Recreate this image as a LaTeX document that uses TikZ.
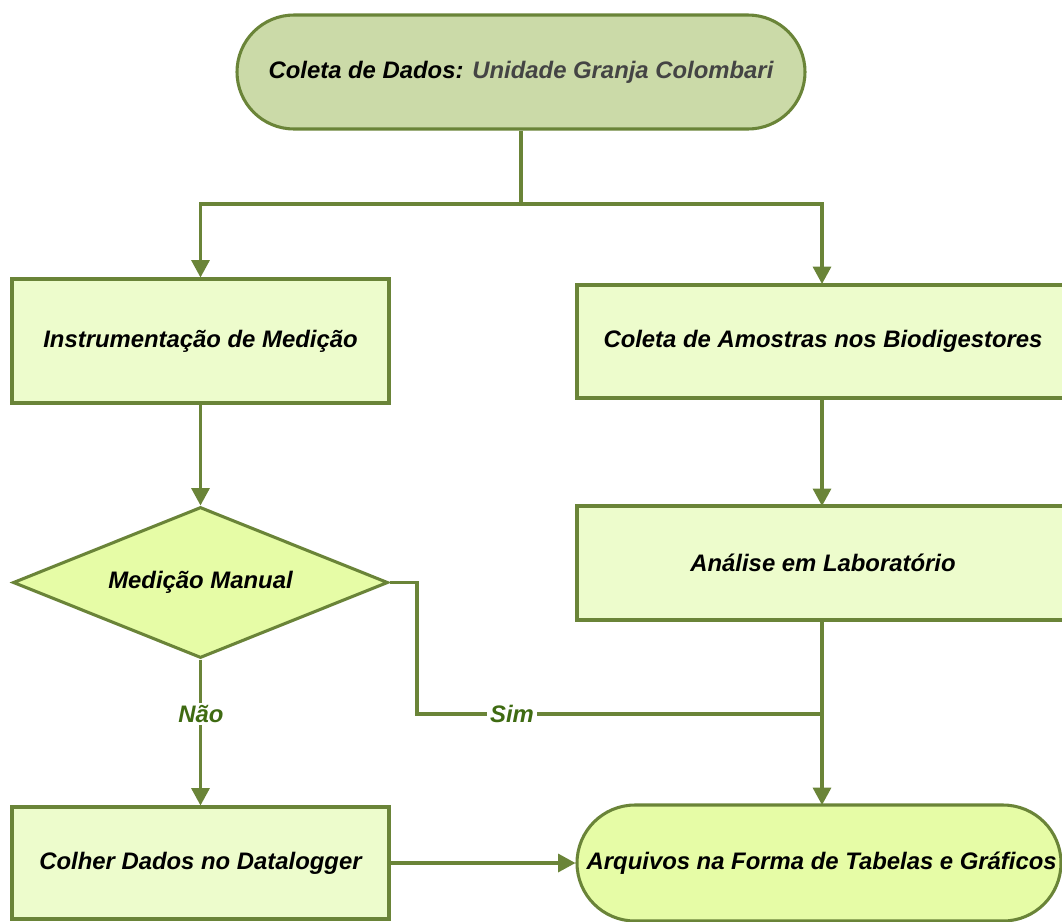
\documentclass[tikz,border=0pt]{standalone}
\usepackage{fontspec}
\setmainfont{Liberation Sans}
\usetikzlibrary{shapes.geometric,shapes.misc,arrows.meta}
\definecolor{edge}{HTML}{6A8438}
\definecolor{topfill}{HTML}{CBDAA8}
\definecolor{boxfill}{HTML}{EDFCCC}
\definecolor{brightfill}{HTML}{E6FCA6}
\definecolor{labgreen}{HTML}{3F6B12}
\definecolor{subgray}{HTML}{444444}
\tikzset{
  lbl/.style={font=\fontsize{17.9}{20}\selectfont\bfseries\itshape},
  stepbox/.style={draw=edge, line width=2.3pt, fill=boxfill, lbl, inner sep=0pt},
  term/.style={rounded rectangle, draw=edge, line width=2.3pt, lbl, inner sep=0pt},
  decide/.style={diamond, shape aspect=2.48, draw=edge, line width=2.3pt, fill=brightfill, lbl, inner sep=0pt},
  conn/.style={draw=edge, line width=2.3pt},
  arr/.style={conn, -{Triangle[length=13pt,width=13.5pt]}},
  yn/.style={lbl, text=labgreen, fill=white, inner sep=2pt}
}
\begin{document}
\begin{tikzpicture}[x=0.75pt,y=-0.75pt]
\useasboundingbox (0,0) rectangle (1062,921);
\clip (0,0) rectangle (1062,921);
\node[term, fill=topfill, minimum width=426pt, minimum height=85.5pt] (top) at (521,72)
  {Coleta de Dados: \textcolor{subgray}{Unidade Granja Colombari}};
\node[stepbox, minimum width=282.75pt, minimum height=93pt] (instr) at (200.5,341) {Instrumentação de Medição};
\node[stepbox, minimum width=372pt, minimum height=84.75pt] (amost) at (825,341.5) {\hspace*{-3pt}Coleta de Amostras nos Biodigestores};
\node[stepbox, minimum width=372pt, minimum height=85.5pt] (lab) at (825,563) {\hspace*{-3pt}Análise em Laboratório};
\node[decide, minimum width=281.25pt, minimum height=113.25pt] (dec) at (200.5,582.5) {Medição Manual};
\node[stepbox, minimum width=282.75pt, minimum height=84pt] (colher) at (200.5,863) {Colher Dados no Datalogger};
\node[term, fill=brightfill, minimum width=363pt, minimum height=87pt] (arq) at (819,863) {\hspace*{4pt}Arquivos na Forma de Tabelas e Gráficos};
\coordinate (split) at (521,204);
\coordinate (sp) at (417,714);
\draw[conn] (top.south) -- (split);
\draw[arr] (split) -| (instr.north);
\draw[arr] (split) -| (822,284) coordinate (amtop);
\draw[arr] (instr.south) -- (dec.north);
\draw[arr] (822,398) -- (822,506);
\draw[conn] (dec.east) -| (sp) -- (822,714);
\node[yn] (sim) at (512,714) {Sim};
\draw[arr] (822,620) -- (822,805);
\draw[arr] (dec.south) -- (colher.north);
\node[yn] (nao) at (201,714) {Não};
\draw[arr] (colher.east) -- (arq.west);
\end{tikzpicture}
\end{document}
